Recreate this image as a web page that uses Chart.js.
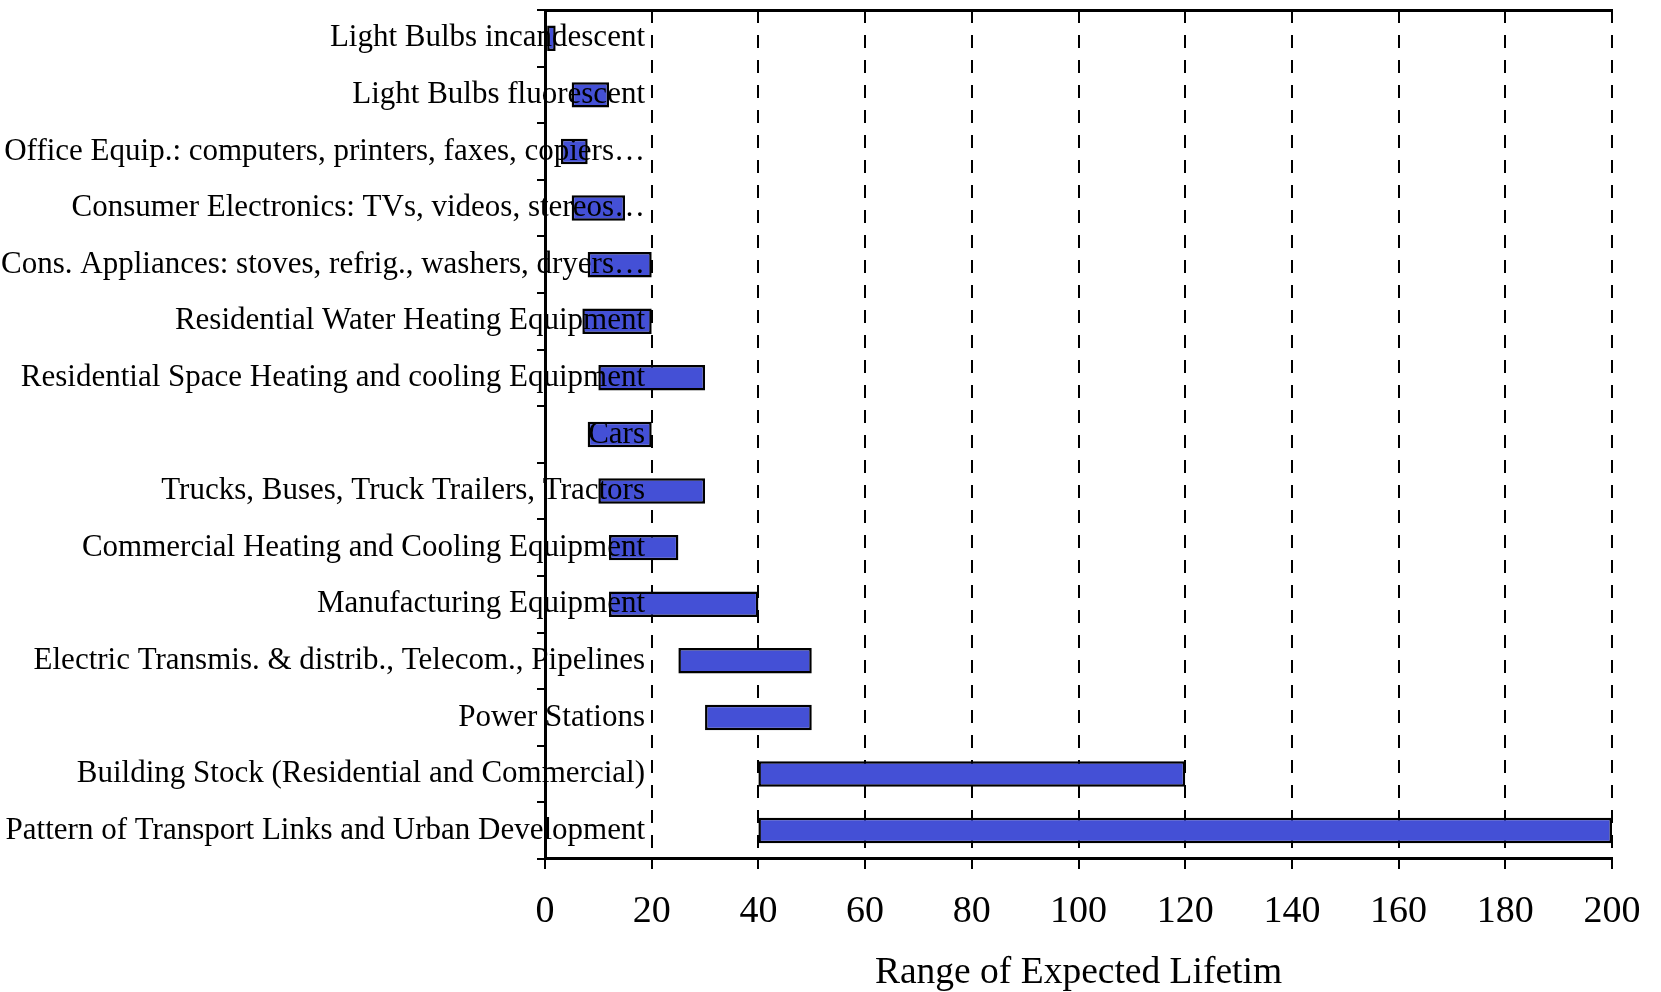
<!DOCTYPE html>
<html>
<head>
<meta charset="utf-8">
<title>Range of Expected Lifetime</title>
<script src="https://cdn.jsdelivr.net/npm/chart.js@4.4.1/dist/chart.umd.min.js"></script>
<style>
    html, body { margin: 0; padding: 0; background: #fff; }
    #wrap { width: 1661px; height: 992px; position: relative; }
</style>
</head>
<body>
<div id="wrap"><canvas id="chart"></canvas></div>
<script>
// categories, top to bottom
const categories = [
    'Light Bulbs incandescent',
    'Light Bulbs fluorescent',
    'Office Equip.: computers, printers, faxes, copiers\u2026',
    'Consumer Electronics: TVs, videos, stereos\u2026',
    'Cons. Appliances: stoves, refrig., washers, dryers\u2026',
    'Residential Water Heating Equipment',
    'Residential Space Heating and cooling Equipment',
    'Cars',
    'Trucks, Buses, Truck Trailers, Tractors',
    'Commercial Heating and Cooling Equipment',
    'Manufacturing Equipment',
    'Electric Transmis. & distrib., Telecom., Pipelines',
    'Power Stations',
    'Building Stock (Residential and Commercial)',
    'Pattern of Transport Links and Urban Development'
];

// expected lifetime range, years
const lifetimeMin = [0.4, 5, 3, 5, 8, 7, 10, 8, 10, 12, 12, 25, 30, 40, 40];
const lifetimeMax = [2, 12, 8, 15, 20, 20, 30, 20, 30, 25, 40, 50, 50, 120, 200];

const xTicks = [0, 20, 40, 60, 80, 100, 120, 140, 160, 180, 200];
const axisTitle = 'Range of Expected Lifetim';

const serif = 'Liberation Serif';

const ranges = categories.map((c, i) => [lifetimeMin[i], lifetimeMax[i]]);

new Chart(document.getElementById('chart'), {
    type: 'bar',
    data: {
        labels: categories,
        datasets: [{
            data: ranges,
            backgroundColor: '#4450d6',
            borderColor: '#000',
            borderWidth: 2.5,
            borderSkipped: false,
            categoryPercentage: 1,
            barPercentage: 0.45
        }]
    },
    options: {
        indexAxis: 'y',
        responsive: true,
        maintainAspectRatio: false,
        animation: false,
        layout: { padding: { top: 10, right: 49, bottom: 0, left: 0 } },
        plugins: {
            legend: { display: false },
            tooltip: { enabled: false }
        },
        scales: {
            x: {
                type: 'linear',
                position: 'bottom',
                min: 0,
                max: 200,
                afterBuildTicks: (s) => { s.ticks = xTicks.map(v => ({ value: v })); },
                ticks: {
                    color: '#000',
                    padding: 20,
                    maxRotation: 0,
                    font: { family: serif, size: 38 }
                },
                grid: {
                    color: '#000',
                    lineWidth: 2,
                    tickBorderDash: [],
                    tickLength: 10,
                    tickColor: '#000',
                    tickWidth: 2
                },
                border: { color: '#000', width: 3, dash: [13, 12] },
                title: {
                    display: true,
                    text: axisTitle,
                    color: '#000',
                    padding: { top: 0, bottom: 0 },
                    font: { family: serif, size: 37.5, lineHeight: 1 }
                }
            },
            xTop: {
                type: 'linear',
                position: 'top',
                min: 0,
                max: 200,
                ticks: { display: false },
                grid: { display: false, drawTicks: false },
                border: { color: '#000', width: 3 }
            },
            y: {
                type: 'category',
                afterFit: (s) => {
                    s.width = 545;
                    // labels run over the bars, so do not clip them to the axis box
                    s._computeLabelArea = () => undefined;
                },
                ticks: {
                    z: 1,
                    color: '#000',
                    padding: -108,
                    autoSkip: false,
                    font: { family: serif, size: 31 }
                },
                grid: {
                    drawOnChartArea: false,
                    drawTicks: true,
                    offset: true,
                    tickLength: 8,
                    color: '#000',
                    lineWidth: 2
                },
                border: { color: '#000', width: 3, z: 1 }
            }
        }
    }
});
</script>
</body>
</html>
